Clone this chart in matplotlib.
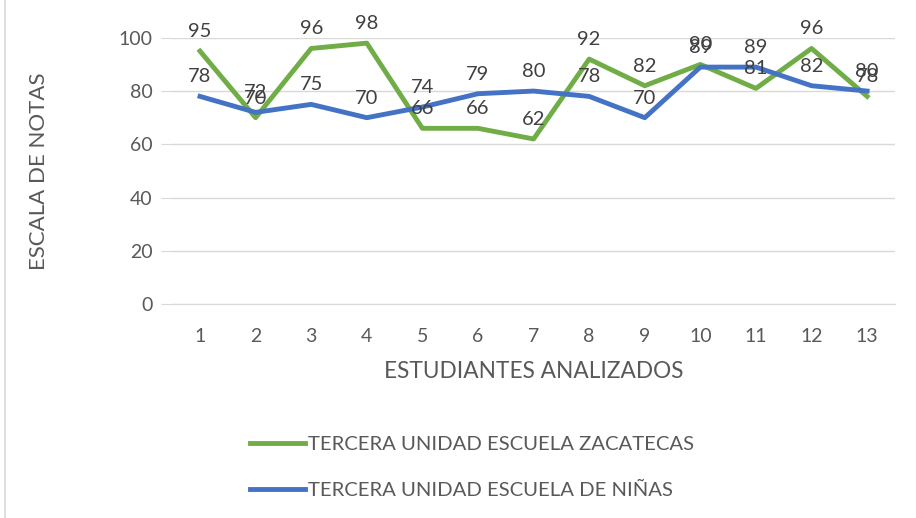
import matplotlib.pyplot as plt
from matplotlib.patches import Rectangle

plt.rcParams['font.family'] = ['Lato', 'DejaVu Sans']

estudiantes = [1, 2, 3, 4, 5, 6, 7, 8, 9, 10, 11, 12, 13]
zacatecas = [95, 70, 96, 98, 66, 66, 62, 92, 82, 90, 81, 96, 78]
ninas = [78, 72, 75, 70, 74, 79, 80, 78, 70, 89, 89, 82, 80]
series_names = ['TERCERA UNIDAD ESCUELA ZACATECAS', 'TERCERA UNIDAD ESCUELA DE NIÑAS']

green = '#70AD47'
blue = '#4472C4'
text_col = '#595959'

fig = plt.figure(figsize=(9.16, 5.18), dpi=100)
ax = fig.add_axes([0.188, 0.413, 0.789, 0.514])

ax.plot(estudiantes, zacatecas, color=green, lw=3.5, label=series_names[0], zorder=3)
ax.plot(estudiantes, ninas, color=blue, lw=3.5, label=series_names[1], zorder=3)

for xs, ys in [(estudiantes, zacatecas), (estudiantes, ninas)]:
    for x, y in zip(xs, ys):
        ax.annotate(str(y), (x, y), xytext=(0, 8), textcoords='offset points',
                    ha='center', va='bottom', fontsize=14.5, color='#404040', zorder=4,
                    annotation_clip=False)

ax.set_xlim(0.5, 13.5)
ax.set_ylim(0, 100)
ax.set_yticks(range(0, 101, 20))
ax.set_xticks(estudiantes)
ax.grid(axis='y', color='#d9d9d9', lw=1)
ax.set_axisbelow(True)
for s in ['top', 'right', 'left']:
    ax.spines[s].set_visible(False)
ax.spines['bottom'].set_color('#d9d9d9')
ax.tick_params(axis='y', length=8, color='#d9d9d9', labelsize=14, labelcolor=text_col, pad=6)
ax.tick_params(axis='x', length=0, labelsize=14, labelcolor=text_col, pad=17)

ax.set_xlabel('ESTUDIANTES ANALIZADOS', fontsize=16.3, color=text_col, labelpad=12)
ax.set_ylabel('ESCALA DE NOTAS', fontsize=16, color=text_col, labelpad=50)

fig.legend(loc='center left', bbox_to_anchor=(0.273, 0.098), frameon=False,
           fontsize=14.6, labelcolor=text_col, handlelength=2.7, handletextpad=0.15,
           labelspacing=1.4, borderpad=0, borderaxespad=0)

fig.add_artist(Rectangle((0.006, -0.01), 1.2, 1.2, transform=fig.transFigure,
                         fill=False, edgecolor='#d9d9d9', lw=1.2))

fig.savefig('out.png', dpi=100)
